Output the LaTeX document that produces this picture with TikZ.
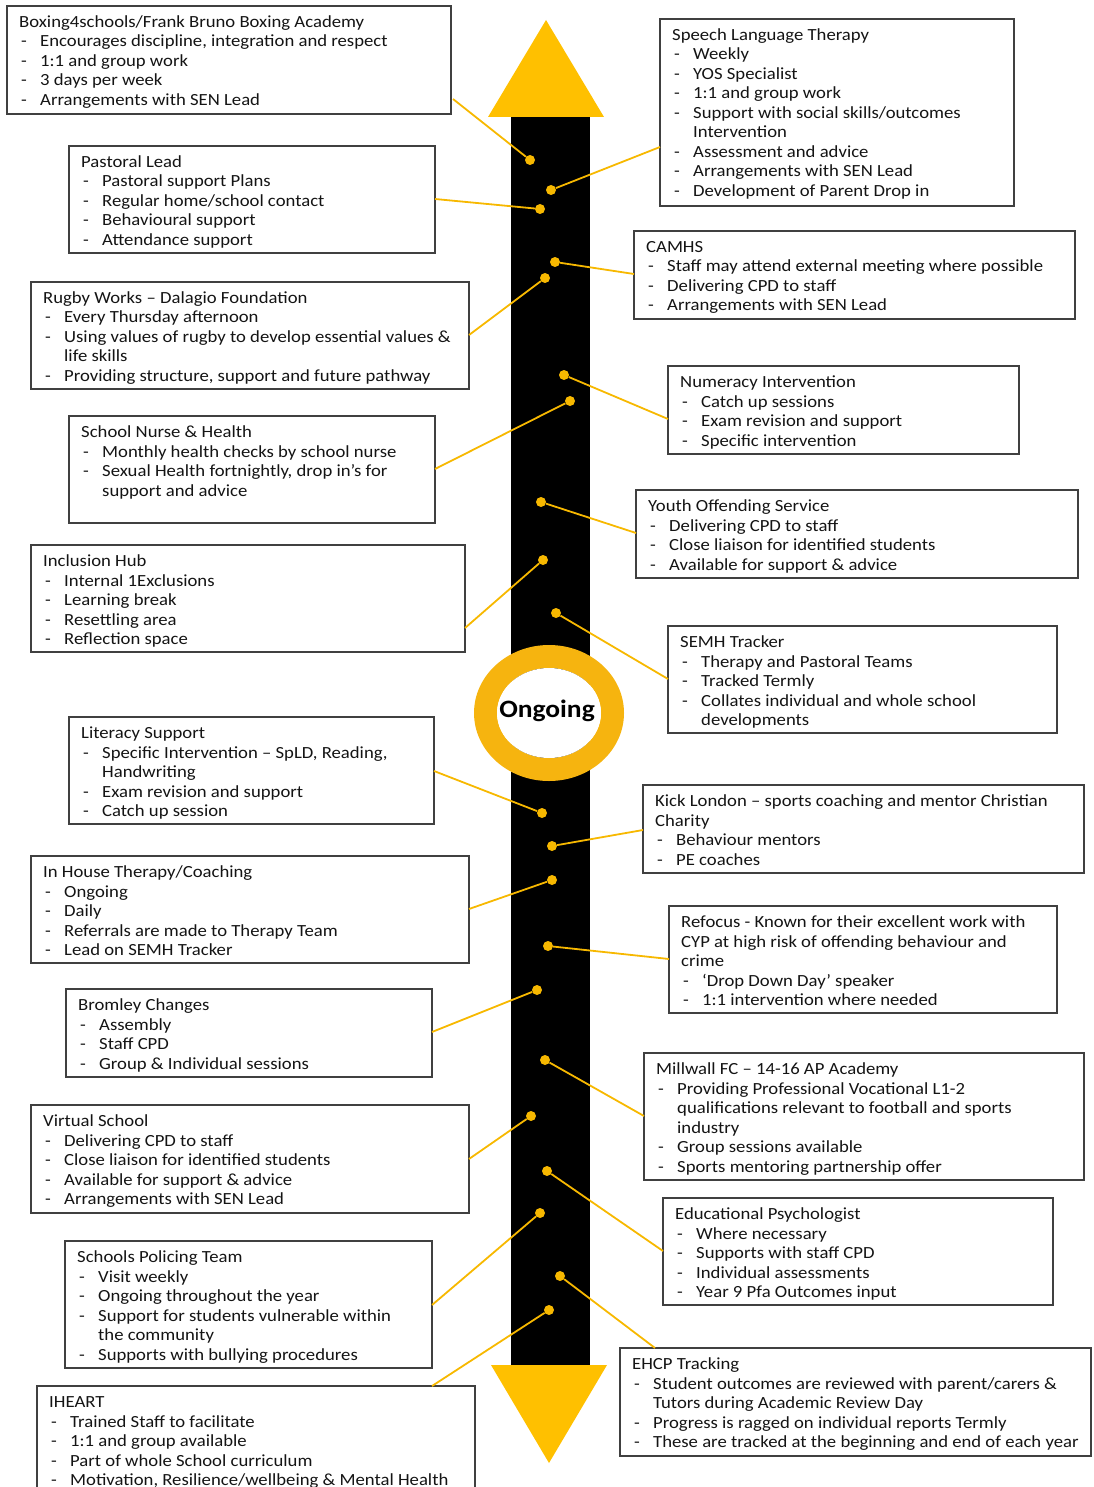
\documentclass[tikz,border=0pt]{standalone}
\usepackage{fontspec}
\setmainfont{Carlito}[FakeStretch=1.1]
\usetikzlibrary{shapes.geometric,calc}
\definecolor{gold}{HTML}{FFC000}
\definecolor{ringc}{HTML}{F6B40F}
\definecolor{linec}{HTML}{F7B800}
\newcommand\itm[1]{\makebox[21pt][l]{\hspace{2pt}-}#1}
\newcommand\cnt[1]{\hspace*{21pt}#1}
\newcommand\ibox[6]{%
  \node[box, anchor=north west, minimum width={#4-#2}, minimum height={#5-#3}] (#1) at (#2,#3) {};
  \node[txt, anchor=base west] (#1t) at ([shift={(12,21.5)}]#1.north west) {\parbox[t]{480pt}{\raggedright #6}};
}
\begin{document}
\begin{tikzpicture}[x=1pt,y=-1pt,
  box/.style={draw=black!75, line width=1.3pt, fill=white, inner sep=0pt, outer sep=0pt},
  txt/.style={inner sep=0pt, text=black!92, font=\fontsize{17}{19.5}\selectfont},
  dot/.style={circle, fill=linec, inner sep=0pt, minimum size=10pt},
  conn/.style={draw=linec, line width=1.8pt}]
\useasboundingbox (0,0) rectangle (1093,1487);
% arrow
\fill[black] (511,116) rectangle (590,1366);
\fill[gold] (546,20) -- (604,117) -- (488,117) -- cycle;
\fill[gold] (491,1365) -- (607,1365) -- (549,1463) -- cycle;
\fill[ringc, even odd rule] (549,713) ellipse [x radius=75pt, y radius=68pt]
  (549,713) ellipse [x radius=52pt, y radius=45pt];
\fill[white] (549,713) ellipse [x radius=52pt, y radius=45pt];
\node[inner sep=0pt, font=\fontsize{25}{28}\selectfont\bfseries] (og) at (547,711) {Ongoing};
% dots
\node[dot] (d1) at (530,160) {};
\node[dot] (d12) at (551,190) {};
\node[dot] (d2) at (540,209) {};
\node[dot] (d13) at (555,262) {};
\node[dot] (d3) at (545,278) {};
\node[dot] (d14) at (564,375) {};
\node[dot] (d4) at (570,401) {};
\node[dot] (d15) at (541,502) {};
\node[dot] (d5) at (543,560) {};
\node[dot] (d16) at (556,613) {};
\node[dot] (d6) at (542,813) {};
\node[dot] (d17) at (552,846) {};
\node[dot] (d7) at (552,880) {};
\node[dot] (d18) at (548,946) {};
\node[dot] (d8) at (537,990) {};
\node[dot] (d19) at (545,1060) {};
\node[dot] (d9) at (531,1116) {};
\node[dot] (d20) at (547,1171) {};
\node[dot] (d10) at (540,1213) {};
\node[dot] (d21) at (560,1276) {};
\node[dot] (d11) at (549,1310) {};
% left boxes
\ibox{b1}{7}{6}{451}{114}{Boxing4schools/Frank Bruno Boxing Academy\\ \itm{Encourages discipline, integration and respect}\\ \itm{1:1 and group work}\\ \itm{3 days per week}\\ \itm{Arrangements with SEN Lead}}
\ibox{b2}{69}{146}{435}{253}{Pastoral Lead\\ \itm{Pastoral support Plans}\\ \itm{Regular home/school contact}\\ \itm{Behavioural support}\\ \itm{Attendance support}}
\ibox{b3}{31}{282}{469}{389}{Rugby Works – Dalagio Foundation\\ \itm{Every Thursday afternoon}\\ \itm{Using values of rugby to develop essential values \&}\\ \cnt{life skills}\\ \itm{Providing structure, support and future pathway}}
\ibox{b4}{69}{416}{435}{523}{School Nurse \& Health\\ \itm{Monthly health checks by school nurse}\\ \itm{Sexual Health fortnightly, drop in’s for}\\ \cnt{support and advice}}
\ibox{b5}{31}{545}{465}{652}{Inclusion Hub\\ \itm{Internal 1Exclusions}\\ \itm{Learning break}\\ \itm{Resettling area}\\ \itm{Reflection space}}
\ibox{b6}{69}{717}{434}{824}{Literacy Support\\ \itm{Specific Intervention – SpLD, Reading,}\\ \cnt{Handwriting}\\ \itm{Exam revision and support}\\ \itm{Catch up session}}
\ibox{b7}{31}{856}{469}{963}{In House Therapy/Coaching\\ \itm{Ongoing}\\ \itm{Daily}\\ \itm{Referrals are made to Therapy Team}\\ \itm{Lead on SEMH Tracker}}
\ibox{b8}{66}{989}{432}{1077}{Bromley Changes\\ \itm{Assembly}\\ \itm{Staff CPD}\\ \itm{Group \& Individual sessions}}
\ibox{b9}{31}{1105}{469}{1213}{Virtual School\\ \itm{Delivering CPD to staff}\\ \itm{Close liaison for identified students}\\ \itm{Available for support \& advice}\\ \itm{Arrangements with SEN Lead}}
\ibox{b10}{65}{1241}{432}{1368}{Schools Policing Team\\ \itm{Visit weekly}\\ \itm{Ongoing throughout the year}\\ \itm{Support for students vulnerable within}\\ \cnt{the community}\\ \itm{Supports with bullying procedures}}
\ibox{b11}{37}{1386}{475}{1496}{IHEART\\ \itm{Trained Staff to facilitate}\\ \itm{1:1 and group available}\\ \itm{Part of whole School curriculum}\\ \itm{Motivation, Resilience/wellbeing \& Mental Health}}
% right boxes
\ibox{b12}{660}{19}{1014}{206}{Speech Language Therapy\\ \itm{Weekly}\\ \itm{YOS Specialist}\\ \itm{1:1 and group work}\\ \itm{Support with social skills/outcomes}\\ \cnt{Intervention}\\ \itm{Assessment and advice}\\ \itm{Arrangements with SEN Lead}\\ \itm{Development of Parent Drop in}}
\ibox{b13}{634}{231}{1075}{319}{CAMHS\\ \itm{Staff may attend external meeting where possible}\\ \itm{Delivering CPD to staff}\\ \itm{Arrangements with SEN Lead}}
\ibox{b14}{668}{366}{1019}{454}{Numeracy Intervention\\ \itm{Catch up sessions}\\ \itm{Exam revision and support}\\ \itm{Specific intervention}}
\ibox{b15}{636}{490}{1078}{578}{Youth Offending Service\\ \itm{Delivering CPD to staff}\\ \itm{Close liaison for identified students}\\ \itm{Available for support \& advice}}
\ibox{b16}{668}{626}{1057}{733}{SEMH Tracker\\ \itm{Therapy and Pastoral Teams}\\ \itm{Tracked Termly}\\ \itm{Collates individual and whole school}\\ \cnt{developments}}
\ibox{b17}{643}{785}{1084}{873}{Kick London – sports coaching and mentor Christian\\ Charity\\ \itm{Behaviour mentors}\\ \itm{PE coaches}}
\ibox{b18}{669}{906}{1057}{1013}{Refocus - Known for their excellent work with\\ CYP at high risk of offending behaviour and\\ crime\\ \itm{‘Drop Down Day’ speaker}\\ \itm{1:1 intervention where needed}}
\ibox{b19}{644}{1053}{1084}{1180}{Millwall FC – 14-16 AP Academy\\ \itm{Providing Professional Vocational L1-2}\\ \cnt{qualifications relevant to football and sports}\\ \cnt{industry}\\ \itm{Group sessions available}\\ \itm{Sports mentoring partnership offer}}
\ibox{b20}{663}{1198}{1053}{1305}{Educational Psychologist\\ \itm{Where necessary}\\ \itm{Supports with staff CPD}\\ \itm{Individual assessments}\\ \itm{Year 9 Pfa Outcomes input}}
\ibox{b21}{620}{1348}{1091}{1456}{EHCP Tracking\\ \itm{Student outcomes are reviewed with parent/carers \&}\\ \cnt{Tutors during Academic Review Day}\\ \itm{Progress is ragged on individual reports Termly}\\ \itm{These are tracked at the beginning and end of each year}}
% connectors
\draw[conn] (453,99) -- (d1);
\draw[conn] (b12.west |- 0,147) -- (d12);
\draw[conn] (b2.east |- 0,199) -- (d2);
\draw[conn] (b13.west |- 0,274) -- (d13);
\draw[conn] (b3.east |- 0,335) -- (d3);
\draw[conn] (b14.west |- 0,419) -- (d14);
\draw[conn] (b4.east |- 0,469) -- (d4);
\draw[conn] (b15.west |- 0,533) -- (d15);
\draw[conn] (b5.east |- 0,628) -- (d5);
\draw[conn] (b16.west |- 0,679) -- (d16);
\draw[conn] (b6.east |- 0,771) -- (d6);
\draw[conn] (b17.west |- 0,830) -- (d17);
\draw[conn] (b7.east |- 0,909) -- (d7);
\draw[conn] (b18.west |- 0,959) -- (d18);
\draw[conn] (b8.east |- 0,1032) -- (d8);
\draw[conn] (b19.west |- 0,1116) -- (d19);
\draw[conn] (b9.east |- 0,1159) -- (d9);
\draw[conn] (b20.west |- 0,1251) -- (d20);
\draw[conn] (b10.east |- 0,1305) -- (d10);
\draw[conn] (b21.north -| 655,0) -- (d21);
\draw[conn] (b11.north -| 432,0) -- (d11);
\end{tikzpicture}
\end{document}
